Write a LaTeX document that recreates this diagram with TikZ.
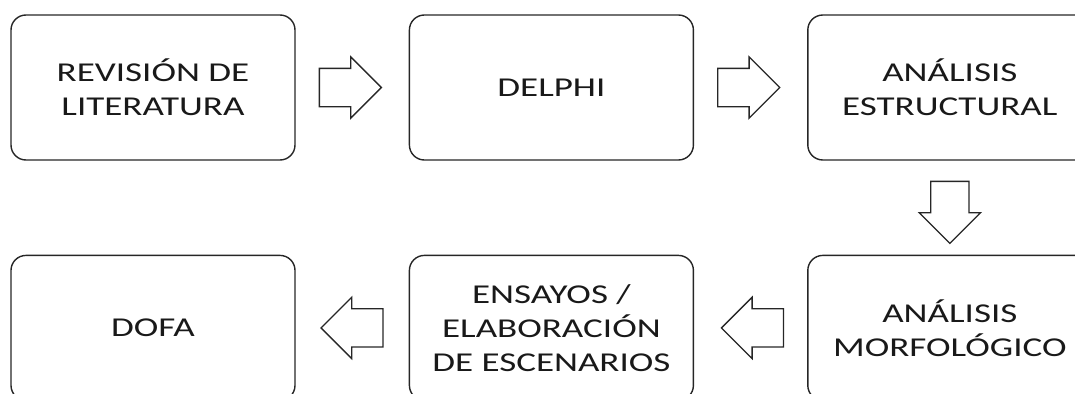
\documentclass[tikz,border=0pt]{standalone}
\usepackage{fontspec}
\setmainfont{Carlito}[FakeStretch=1.36]
\usetikzlibrary{positioning, shapes.arrows, calc}

\begin{document}
\begin{tikzpicture}[node distance=1.88cm and 2.26cm,
 box/.style={draw=black!85, line width=0.8pt, rounded corners=0.3cm,
  minimum width=5.68cm, minimum height=2.9cm, align=center,
  text=black!90, font=\fontsize{15.5}{19.5}\selectfont},
 blk/.style={single arrow, draw=black!85, line width=0.75pt, anchor=tail,
  minimum height=1.24cm, inner xsep=0pt, inner ysep=0.37cm,
  single arrow head extend=0.23cm}]
 \useasboundingbox (0,0) rectangle (21.5,-7.88);

 \node[box] (rev) at (3.06,-1.75) {REVISIÓN DE\\LITERATURA};
 \node[box] (del) [right=of rev] {DELPHI};
 \node[box] (est) [right=of del] {ANÁLISIS\\ESTRUCTURAL};
 \node[box] (mor) [below=of est] {ANÁLISIS\\MORFOLÓGICO};
 \node[box] (ens) [left=of mor] {ENSAYOS /\\ELABORACIÓN\\DE ESCENARIOS};
 \node[box] (dofa) [left=of ens] {DOFA};

 % block arrows between the steps
 \node[blk] (a1) at ($(rev.east)+(0.46,0)$) {};
 \node[blk] (a2) at ($(del.east)+(0.46,0)$) {};
 \node[blk, rotate=270] (a3) at ($(est.south)+(0,-0.4)$) {};
 \node[blk, rotate=180] (a4) at ($(mor.west)+(-0.46,0)$) {};
 \node[blk, rotate=180] (a5) at ($(ens.west)+(-0.5,0)$) {};
\end{tikzpicture}
\end{document}
